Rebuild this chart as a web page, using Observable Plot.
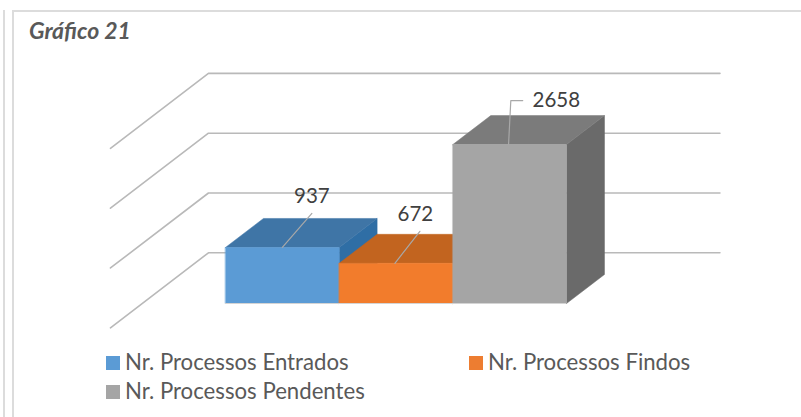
<!DOCTYPE html>
<html lang="pt">
<head>
<meta charset="utf-8">
<script src="https://cdn.jsdelivr.net/npm/d3@7"></script>
<script src="https://cdn.jsdelivr.net/npm/@observablehq/plot@0.6"></script>
<style>
html,body{margin:0;padding:0;background:#fff}
#wrap{position:relative;width:801px;height:417px;overflow:hidden;font-family:Lato,sans-serif}
#wrap svg{position:absolute;left:0;top:0}
.frame{position:absolute;background:#dcdcdc}
.title{position:absolute;left:29px;top:16px;font:italic 700 23px Lato,sans-serif;color:#595959}
.lg{position:absolute;font-size:22.2px;line-height:24px;color:#595959;white-space:nowrap}
.sw{position:absolute;width:14px;height:14px}
</style>
</head>
<body>
<div id="wrap"></div>
<script>
const categories = ["Nr. Processos Entrados", "Nr. Processos Findos", "Nr. Processos Pendentes"];
const values = [937, 672, 2658];
const frontColors = ["#5b9bd5", "#f27c2c", "#a5a5a5"];
const topColors = ["#3f75a6", "#c2641f", "#7b7b7b"];
const sideColors = ["#2f6ea5", "#b85c1a", "#6a6a6a"];
const gridValues = [0, 1000, 2000, 3000];

// Pseudo-3D geometry, in scale units
const barDepthX = 0.334, barDepthY = 485;
const wallLeft = -0.15, wallRight = 4.35, wallBase = 848;
const floorDepthX = -0.862, floorDepthY = -1254;

const bars = values.map((v, i) => ({i, v}));
const poly = (fn) => bars.flatMap(b => fn(b).map(([x, y]) => ({x, y, i: b.i})));
const side = poly(({i, v}) => [[i+1,0],[i+1+barDepthX,barDepthY],[i+1+barDepthX,v+barDepthY],[i+1,v]]);
const top3d = poly(({i, v}) => [[i,v],[i+barDepthX,v+barDepthY],[i+1+barDepthX,v+barDepthY],[i+1,v]]);
const front = poly(({i, v}) => [[i,0],[i+1,0],[i+1,v],[i,v]]);

const gridPaths = gridValues.flatMap(g => [
  {x: wallLeft + floorDepthX, y: g + wallBase + floorDepthY, g},
  {x: wallLeft, y: g + wallBase, g},
  {x: wallRight, y: g + wallBase, g}
]);

// label placement relative to each bar
const leaderFrom = [0.5, 0.49, 0.49];
const leaderTo = [[0.76, 570], [0.71, 535], [0.51, 735]];
const labelAt = [[0.76, 853], [0.67, 820], [0.91, 735]];
const leaders = bars.flatMap(({i, v}) => {
  const pts = [{x: i + leaderFrom[i], y: v, i}, {x: i + leaderTo[i][0], y: v + leaderTo[i][1], i}];
  if (i === 2) pts.push({x: i + leaderTo[i][0] + 0.105, y: v + leaderTo[i][1], i});
  return pts;
});

const scaleX = 113.67, scaleY = 0.0598, originX = 225, originY = 303;
const layer = (data, colors) => categories.map((_, k) =>
  Plot.line(data.filter(d => d.i === k), {x: "x", y: "y", fill: colors[k], stroke: colors[k], strokeWidth: 0.5, curve: "linear-closed"}));

const chart = Plot.plot({
  width: 801, height: 417, margin: 0,
  x: {axis: null, domain: [-originX / scaleX, (801 - originX) / scaleX], range: [0, 801]},
  y: {axis: null, domain: [(originY - 417) / scaleY, originY / scaleY], range: [417, 0]},
  style: {background: "transparent", fontFamily: "Lato,sans-serif"},
  marks: [
    Plot.line(gridPaths, {x: "x", y: "y", z: "g", stroke: "#b9b9b9", strokeWidth: 1.6, curve: "linear"}),
    ...categories.flatMap((_, k) => [
      ...layer(side.filter(d => d.i === k), sideColors),
      ...layer(top3d.filter(d => d.i === k), topColors),
      ...layer(front.filter(d => d.i === k), frontColors)
    ]),
    Plot.ruleY([0], {x1: 0, x2: 3, stroke: "#d4d4d4", strokeWidth: 1}),
    Plot.line(leaders, {x: "x", y: "y", z: "i", stroke: "#a8a8a8", strokeWidth: 1.2}),
    Plot.text(bars, {
      x: d => d.i + labelAt[d.i][0],
      y: d => d.v + labelAt[d.i][1],
      text: d => String(d.v),
      fontSize: 20.5, fill: "#404040",
      textAnchor: "middle"
    })
  ]
});

const wrap = document.getElementById("wrap");
wrap.appendChild(chart);
const el = (cls, css, text) => {
  const d = document.createElement("div");
  d.className = cls; d.style.cssText = css;
  if (text) d.textContent = text;
  wrap.appendChild(d);
};
el("frame", "left:3px;top:10px;width:2px;height:407px");
el("frame", "left:12px;top:10px;width:2px;height:407px");
el("frame", "left:12px;top:10px;width:789px;height:1.5px");
el("title", "", "Gráfico 21");
const legendPos = [[106, 356], [469, 356], [106, 385]];
const legendColors = ["#5b9bd5", "#ed7d31", "#a5a5a5"];
categories.forEach((c, k) => {
  const [x, y] = legendPos[k];
  el("sw", `left:${x}px;top:${y}px;background:${legendColors[k]}`);
  el("lg", `left:${x + 19}px;top:${y - 6}px`, c);
});
</script>
</body>
</html>
